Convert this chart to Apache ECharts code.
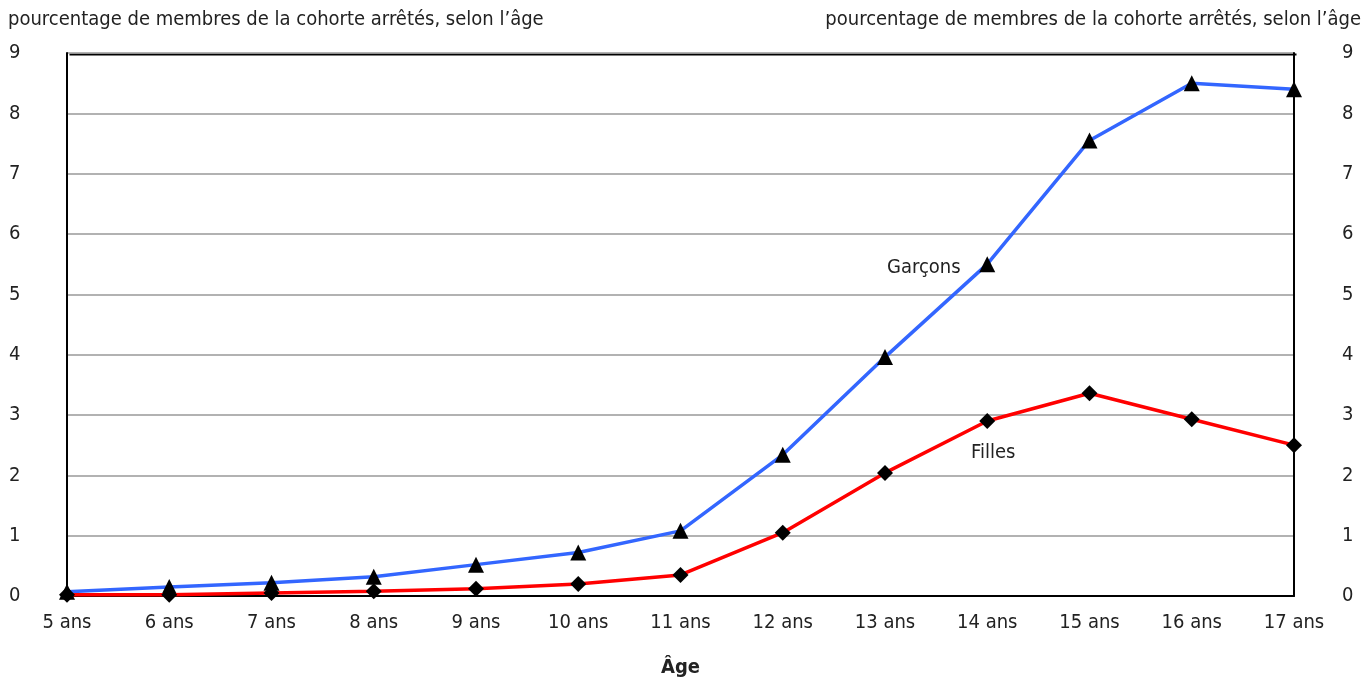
<!DOCTYPE html>
<html>
<head>
<meta charset="utf-8">
<script src="https://cdn.jsdelivr.net/npm/echarts@6/dist/echarts.min.js"></script>
<style>
  html, body { margin: 0; padding: 0; background: #fff; }
  #chart { width: 1367px; height: 682px; }
</style>
</head>
<body>
<div id="chart"></div>
<script>
const ages = ['5 ans', '6 ans', '7 ans', '8 ans', '9 ans', '10 ans', '11 ans', '12 ans', '13 ans', '14 ans', '15 ans', '16 ans', '17 ans'];
const garcons = [0.07, 0.15, 0.22, 0.32, 0.52, 0.72, 1.08, 2.34, 3.96, 5.5, 7.55, 8.5, 8.4];
const filles = [0.02, 0.02, 0.05, 0.08, 0.12, 0.2, 0.35, 1.05, 2.04, 2.9, 3.36, 2.93, 2.5];
const yTitle = 'pourcentage de membres de la cohorte arrêtés, selon l’âge';

const font = '"Liberation Sans Narrow", "DejaVu Sans Condensed", "Liberation Sans", sans-serif';
const txt = { fontFamily: font, fontSize: 20, color: '#222' };

const chart = echarts.init(document.getElementById('chart'));

const yAxisBase = {
  type: 'value',
  min: 0,
  max: 9,
  interval: 1,
  axisTick: { show: false },
  axisLine: { show: true, lineStyle: { color: '#000', width: 2 } },
  axisLabel: Object.assign({}, txt),
  splitLine: { show: true, lineStyle: { color: '#999', width: 1.5 } },
};

chart.setOption({
  animation: false,
  textStyle: { fontFamily: font },
  grid: { left: 67, right: 73, top: 53, bottom: 86, containLabel: false, outerBoundsMode: 'none' },
  graphic: [
    { type: 'text', left: 8, top: 10, style: Object.assign({ text: yTitle }, txt, { fill: '#222' }) },
    { type: 'text', right: 6, top: 10, style: Object.assign({ text: yTitle }, txt, { fill: '#222' }) },
    { type: 'text', left: 887, top: 258, style: Object.assign({ text: 'Garçons' }, txt, { fill: '#222' }) },
    { type: 'text', left: 971, top: 443, style: Object.assign({ text: 'Filles' }, txt, { fill: '#222' }) },
    // top border of the plot box
    { type: 'rect', left: 67, top: 52, shape: { width: 1227, height: 0 }, style: { stroke: '#000', lineWidth: 2, fill: 'none' } },
  ],
  xAxis: {
    type: 'category',
    data: ages,
    boundaryGap: false,
    name: 'Âge',
    nameLocation: 'middle',
    nameGap: 62,
    nameTextStyle: Object.assign({}, txt, { fontWeight: 'bold' }),
    axisTick: { show: false },
    axisLine: { show: true, lineStyle: { color: '#000', width: 2 } },
    axisLabel: Object.assign({ margin: 17 }, txt),
  },
  yAxis: [
    Object.assign({ position: 'left' }, yAxisBase, { axisLabel: Object.assign({}, yAxisBase.axisLabel, { align: 'left', margin: 58 }) }),
    Object.assign({ position: 'right' }, yAxisBase, { splitLine: { show: false }, axisLabel: Object.assign({}, yAxisBase.axisLabel, { align: 'left', margin: 48 }) }),
  ],
  series: [
    {
      name: 'Garçons',
      type: 'line',
      data: garcons,
      symbol: 'triangle',
      symbolSize: 16,
      lineStyle: { color: '#3366ff', width: 3.5 },
      itemStyle: { color: '#000' },
      z: 3,
    },
    {
      name: 'Filles',
      type: 'line',
      data: filles,
      symbol: 'diamond',
      symbolSize: 16,
      lineStyle: { color: '#ff0000', width: 3.5 },
      itemStyle: { color: '#000' },
      z: 4,
    },
  ],
});
</script>
</body>
</html>
